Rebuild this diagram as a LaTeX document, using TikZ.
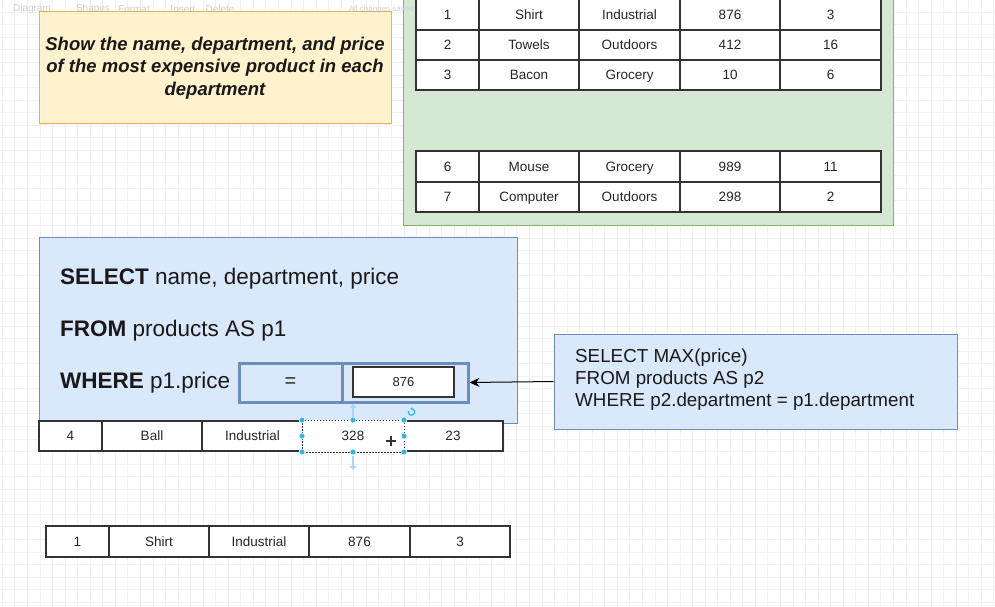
\documentclass[tikz,border=0pt]{standalone}
\usepackage{fontspec}
\setmainfont{Liberation Sans}
\usetikzlibrary{arrows.meta}
\definecolor{yfill}{HTML}{FFF2CC}
\definecolor{yline}{HTML}{D6B656}
\definecolor{gfill}{HTML}{D5E8D4}
\definecolor{gline}{HTML}{82B366}
\definecolor{bfill}{HTML}{DAE8FC}
\definecolor{bline}{HTML}{6C8EBF}
\definecolor{tline}{HTML}{333333}
\definecolor{handle}{HTML}{29B6F2}
\definecolor{hint}{HTML}{A9D8F6}
\definecolor{gridc}{HTML}{F1F1F1}
\definecolor{uitext}{HTML}{D0D0D0}
\tikzset{
  cell/.style={draw=tline, line width=1.3pt, fill=white, inner sep=0pt,
    text height=9.8pt, text depth=0.4pt,
    font=\fontsize{13.5}{16}\selectfont, text=black!85},
  panel/.style={line width=1pt, inner sep=0pt},
  sqltext/.style={anchor=west, inner sep=0pt, font=\fontsize{22.5}{26}\selectfont, text=black!90},
  subtext/.style={anchor=north west, inner sep=0pt, align=left,
    font=\fontsize{18.8}{22.3}\selectfont, text=black!90},
  uilabel/.style={inner sep=0pt, font=\fontsize{10}{12}\selectfont, text=uitext},
  hdot/.style={circle, fill=handle, draw=white, line width=0.6pt, inner sep=0pt, minimum size=6pt},
  seldash/.style={draw=black!80, line width=0.9pt, dash pattern=on 1.5pt off 1.5pt},
}
\newcommand{\cellat}[6]{\node[cell, minimum width={#4-#2}, minimum height={#5-#3}] (#1) at ({(#2+#4)/2},{(#3+#5)/2}) {#6};}
\newcommand{\trow}[3]{\foreach \xa/\xb/\nm/\tx in {#3} {\cellat{\nm}{\xa}{#1}{\xb}{#2}{\tx}}}
\begin{document}
\begin{tikzpicture}[x=1pt,y=-1pt]
\useasboundingbox[fill=white] (0,0) rectangle (995,607);
% background grid
\foreach \i in {0,...,79} \draw[gridc, line width=0.8pt] ({2.3+\i*12.55},0) -- ({2.3+\i*12.55},607);
\foreach \j in {0,...,48} \draw[gridc, line width=0.8pt] (0,{-0.3+\j*12.55}) -- (995,{-0.3+\j*12.55});
% faint toolbar labels
\node[uilabel] (ui1) at (32,9) {Diagram};
\node[uilabel] (ui2) at (93,9) {Shapes};
\node[uilabel] (ui3) at (134,9) {Format};
\node[uilabel] (ui4) at (183,9) {Insert};
\node[uilabel] (ui5) at (220,9) {Delete};
% question box
\node[panel, draw=yline, fill=yfill, minimum width=352, minimum height=112,
  align=center, font=\fontsize{18.5}{22.3}\selectfont\bfseries\itshape, text=black!90]
  (question) at (215,68) {Show the name, department, and price\\of the most expensive product in each\\department};
% green panel with table
\node[panel, draw=gline, fill=gfill, minimum width=490, minimum height=232] (green) at (648,109) {};
\node[uilabel, anchor=east, font=\fontsize{8}{10}\selectfont] (ui6) at (414,9) {All changes saved};
\trow{-1}{30}{416/479/a1/1, 479/579/a2/Shirt, 579/680/a3/Industrial, 680/780/a4/876, 780/881/a5/3}
\trow{30}{60}{416/479/b1/2, 479/579/b2/Towels, 579/680/b3/Outdoors, 680/780/b4/412, 780/881/b5/16}
\trow{60}{90}{416/479/c1/3, 479/579/c2/Bacon, 579/680/c3/Grocery, 680/780/c4/10, 780/881/c5/6}
\trow{151}{182}{416/479/d1/6, 479/579/d2/Mouse, 579/680/d3/Grocery, 680/780/d4/989, 780/881/d5/11}
\trow{182}{212}{416/479/e1/7, 479/579/e2/Computer, 579/680/e3/Outdoors, 680/780/e4/298, 780/881/e5/2}
% main query box
\node[panel, draw=bline, fill=bfill, minimum width=478, minimum height=186] (query) at (278,330) {};
\node[sqltext] (sel) at (60,279) {\textbf{SELECT} name, department, price};
\node[sqltext] (from) at (60,331) {\textbf{FROM} products AS p1};
\node[sqltext] (where) at (60,383) {\textbf{WHERE} p1.price};
\node[draw=bline, fill=bfill, line width=3pt, inner sep=0pt, minimum width=103, minimum height=39,
  font=\fontsize{20}{24}\selectfont, text=black!85] (eq) at (290.5,382.5) {=};
\node[draw=bline, fill=bfill, line width=3pt, inner sep=0pt, minimum width=126, minimum height=39] (val) at (405,382.5) {};
\node[draw=tline, fill=white, line width=1.2pt, inner sep=0pt, minimum width=101, minimum height=30,
  font=\fontsize{13}{16}\selectfont, text=black!85] (v876) at (403.5,382) {876};
% subquery box
\node[panel, draw=bline, fill=bfill, minimum width=403, minimum height=95] (sub) at (755.5,381.5) {};
\node[subtext] (subtxt) at (575,348.5) {SELECT MAX(price)\\FROM products AS p2\\WHERE p2.department = p1.department};
\draw[line width=1pt, -{Stealth[length=10pt,width=9pt]}] (sub.west) -- (val.east);
% row 4
\trow{421}{451}{39/102/f1/4, 102/202/f2/Ball, 202/303/f3/Industrial, 403/503/f5/23}
\node[cell, draw=white, line width=2pt, minimum width=100, minimum height=30] (f4) at (353,436) {328};
\draw[seldash] (f4.north west) rectangle (f4.south east);
\foreach \a in {north west, north, north east, west, east, south west, south, south east}
  \node[hdot] at (f4.\a) {};
\draw[hint, line width=2.5pt, -{Triangle[length=4pt,width=7pt]}] (353,417) -- (353,404);
\draw[hint, line width=2.5pt, -{Triangle[length=4pt,width=7pt]}] (353,456) -- (353,470);
\draw[handle, line width=1.2pt, -{Stealth[length=2.5pt,width=3pt]}] (408.5,411) arc[start angle=200, end angle=-110, radius=3.2];
\draw[black!80, line width=1.6pt] (386,441) -- (396,441) (391,436) -- (391,446);
% result row
\trow{526}{557}{46/109/g1/1, 109/209/g2/Shirt, 209/309/g3/Industrial, 309/410/g4/876, 410/510/g5/3}
\end{tikzpicture}
\end{document}
